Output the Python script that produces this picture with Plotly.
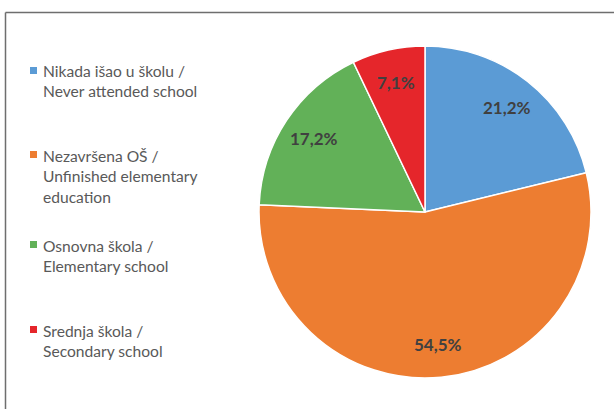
import math
import plotly.graph_objects as go

labels = ["Nikada išao u školu /<br>Never attended school",
          "Nezavršena OŠ /<br>Unfinished elementary<br>education",
          "Osnovna škola /<br>Elementary school",
          "Srednja škola /<br>Secondary school"]
values = [21.2, 54.5, 17.2, 7.1]
colors = ["#5B9BD5", "#ED7D31", "#62B158", "#E5262B"]

W, H = 614, 409
cx, cy, r = 425, 212, 166
label_r = 0.8  # data-label radial position (fraction of radius)

text = [f"{v:.1f}%".replace(".", ",") for v in values]

fig = go.Figure(go.Pie(
    labels=labels, values=values, textinfo="none",
    sort=False, direction="clockwise", rotation=0,
    marker=dict(colors=colors, line=dict(color="white", width=1.5)),
    domain=dict(x=[(cx - r) / W, (cx + r) / W], y=[1 - (cy + r) / H, 1 - (cy - r) / H]),
    showlegend=False, hoverinfo="skip",
))

# data labels placed along each slice bisector
total = sum(values)
cum = 0.0
for v, t in zip(values, text):
    mid = (cum + v / 2) / total * 2 * math.pi
    cum += v
    px = cx + label_r * r * math.sin(mid)
    py = cy - label_r * r * math.cos(mid)
    fig.add_annotation(xref="paper", yref="paper", x=px / W, y=1 - py / H,
                       xanchor="center", yanchor="middle", showarrow=False, text=t,
                       font=dict(family="Lato", size=17, color="#404040", weight="bold"))

# legend built from labels/colors
leg_y = [71, 155, 245, 330]
for lab, col, y in zip(labels, colors, leg_y):
    fig.add_shape(type="rect", xref="paper", yref="paper",
                  x0=30 / W, x1=37 / W, y0=1 - (y + 3) / H, y1=1 - (y - 4) / H,
                  fillcolor=col, line=dict(width=0))
    fig.add_annotation(xref="paper", yref="paper", x=41 / W, y=1 - (y - 10.5) / H,
                       xanchor="left", yanchor="top", align="left", showarrow=False,
                       text=lab, font=dict(family="Lato", size=15.6, color="#595959"))

# frame lines (top and left)
fig.add_shape(type="line", xref="paper", yref="paper", x0=5.5 / W, x1=1.0, y0=1 - 12.5 / H, y1=1 - 12.5 / H,
              line=dict(color="#6e6e6e", width=1.5))
fig.add_shape(type="line", xref="paper", yref="paper", x0=5.5 / W, x1=5.5 / W, y0=0, y1=1 - 12.5 / H,
              line=dict(color="#6e6e6e", width=1.5))

fig.update_layout(width=W, height=H, margin=dict(l=0, r=0, t=0, b=0),
                  paper_bgcolor="white", plot_bgcolor="white")
fig.write_html("out.html")
